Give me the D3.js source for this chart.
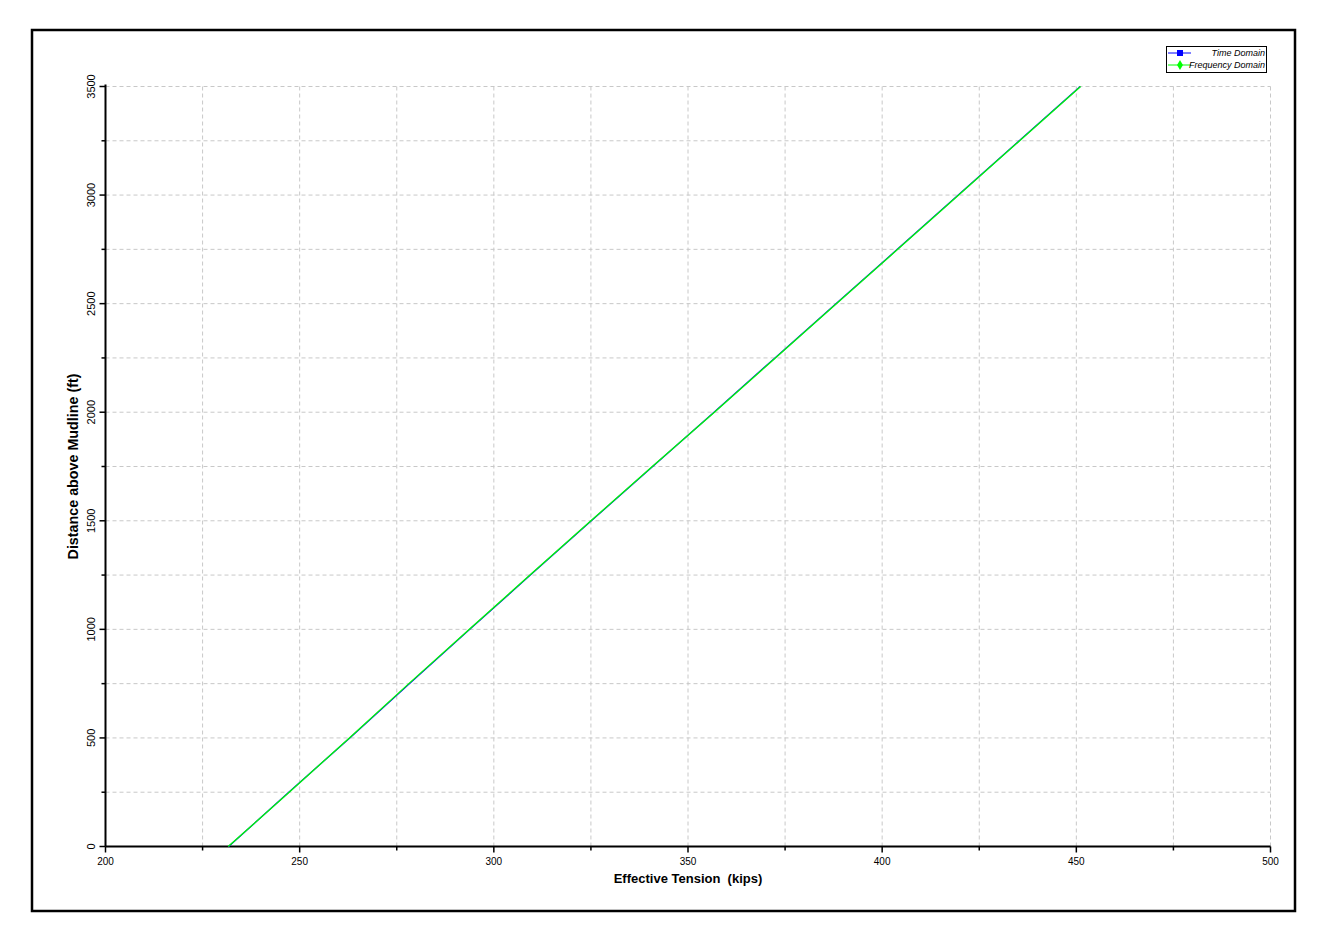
<!DOCTYPE html>
<html><head><meta charset="utf-8">
<script src="https://cdn.jsdelivr.net/npm/d3@7"></script>
<style>body{margin:0;background:#fff;} text{font-family:"Liberation Sans",Arial,sans-serif;}</style>
</head><body>
<svg id="c" width="1326" height="942"></svg>
<script>
const distance = [0,250,500,750,1000,1250,1500,1750,2000,2250,2500,2750,3000,3250,3500];
const timeDomain = [231.7,247.2,262.9,278.3,293.8,309.4,325.1,340.9,356.7,372.4,388.1,403.9,419.6,435.3,451.0];
const freqDomain = [231.6,247.3,262.8,278.1,293.7,309.3,325.0,340.8,356.8,372.5,388.2,404.0,419.7,435.4,451.1];
const xTicks = [200,250,300,350,400,450,500];
const yTicks = [0,500,1000,1500,2000,2500,3000,3500];
const xMinor = d3.range(200,501,25);
const yMinor = d3.range(0,3501,250);
const seriesNames = ["Time Domain","Frequency Domain"];
const seriesColors = ["#0000ff","#00ff00"];

const svg = d3.select("#c");
svg.append("rect").attr("x",32).attr("y",30).attr("width",1263).attr("height",881)
  .attr("fill","none").attr("stroke","#000").attr("stroke-width",2.5);

const L=105.5, R=1270.5, T=86.5, B=846.5;
const x = d3.scaleLinear().domain([200,500]).range([L,R]);
const y = d3.scaleLinear().domain([0,3500]).range([B,T]);

const grid = svg.append("g").attr("stroke","#c8c8c8").attr("stroke-width",1).attr("stroke-dasharray","4,3");
grid.selectAll(".vg").data(xMinor.filter(d=>d>200)).join("line")
  .attr("x1",d=>x(d)).attr("x2",d=>x(d)).attr("y1",T).attr("y2",B);
grid.selectAll(".hg").data(yMinor.filter(d=>d>0)).join("line")
  .attr("x1",L).attr("x2",R).attr("y1",d=>y(d)).attr("y2",d=>y(d));

// axes
const ax = svg.append("g").attr("stroke","#000");
ax.append("line").attr("x1",L).attr("x2",R).attr("y1",B).attr("y2",B).attr("stroke-width",2);
ax.append("line").attr("x1",L).attr("x2",L).attr("y1",T-2).attr("y2",B).attr("stroke-width",2);
ax.selectAll(".xt").data(xMinor).join("line")
  .attr("x1",d=>x(d)).attr("x2",d=>x(d)).attr("y1",B).attr("y2",d=>B+(d%50===0?6:4)).attr("stroke-width",1.5);
ax.selectAll(".yt").data(yMinor).join("line")
  .attr("y1",d=>y(d)).attr("y2",d=>y(d)).attr("x1",L).attr("x2",d=>L-(d%500===0?6:4)).attr("stroke-width",1.5);

svg.selectAll(".xl").data(xTicks).join("text")
  .attr("x",d=>x(d)).attr("y",865).attr("text-anchor","middle")
  .attr("font-size",10).attr("fill","#000").text(d=>d);
svg.selectAll(".yl").data(yTicks).join("text")
  .attr("transform",d=>`translate(95,${y(d)}) rotate(-90)`)
  .attr("text-anchor","middle").attr("font-size",11).attr("fill","#000").text(d=>d);

svg.append("text").attr("x",(L+R)/2).attr("y",883).attr("text-anchor","middle")
  .attr("font-size",13).attr("font-weight","bold").style("white-space","pre").text("Effective Tension  (kips)");
svg.append("text").attr("transform",`translate(78,${(T+B)/2}) rotate(-90)`).attr("text-anchor","middle")
  .attr("font-size",14.3).attr("font-weight","bold").text("Distance above Mudline (ft)");

// series
const line = d3.line().x(d=>x(d[0])).y(d=>y(d[1]));
const series = [timeDomain, freqDomain];
series.forEach((vals,i)=>{
  svg.append("path").datum(vals.map((v,j)=>[v,distance[j]]))
    .attr("d",line).attr("fill","none").attr("stroke",seriesColors[i]).attr("stroke-width",1.3);
});

// legend
const lg = svg.append("g");
lg.append("rect").attr("x",1166.5).attr("y",46.5).attr("width",100).attr("height",26)
  .attr("fill","#fff").attr("stroke","#000").attr("stroke-width",1);
seriesNames.forEach((n,i)=>{
  const yy = 53 + i*12;
  lg.append("line").attr("x1",1168).attr("x2",1191).attr("y1",yy).attr("y2",yy).attr("stroke",seriesColors[i]).attr("stroke-width",1);
  if(i===0) lg.append("rect").attr("x",1177).attr("y",yy-3).attr("width",6).attr("height",6).attr("fill",seriesColors[i]);
  else lg.append("path").attr("d",d3.symbol(d3.symbolDiamond,30)()).attr("transform",`translate(1180,${yy})`).attr("fill",seriesColors[i]);
  lg.append("text").attr("x",1265).attr("y",yy+3).attr("text-anchor","end").attr("font-size",9)
    .attr("font-style","italic").text(n);
});
</script>
</body></html>
